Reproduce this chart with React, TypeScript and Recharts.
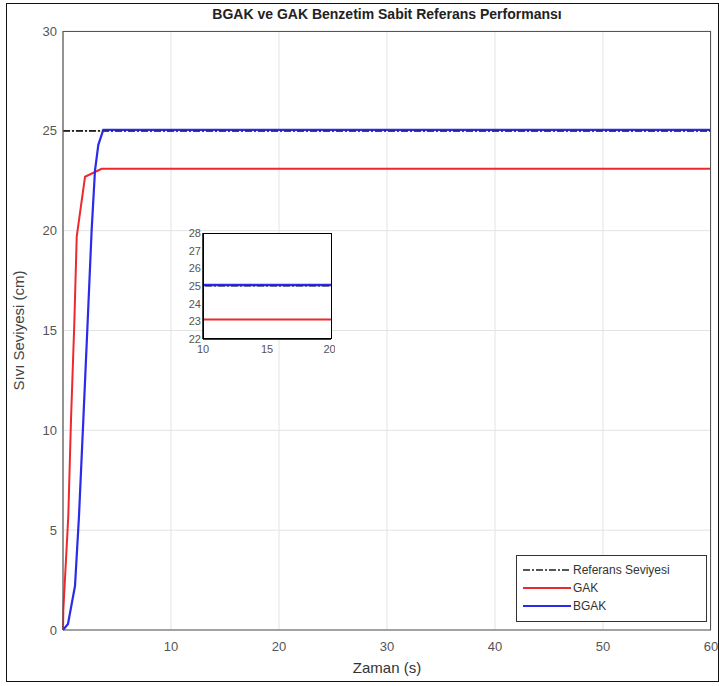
import React from 'react';
import {
    LineChart,
    Line,
    XAxis,
    YAxis,
    CartesianGrid,
} from 'recharts';

// time (s) / level (cm)
const refTime = [0, 60];
const refLevel = [25, 25];

const gakTime = [0, 0.03, 0.49, 0.74, 1.05, 1.27, 2.04, 3.58, 60];
const gakLevel = [0, 1.0, 5.7, 10.5, 15.4, 19.7, 22.7, 23.1, 23.1];

const bgakTime = [0, 0.46, 1.11, 1.48, 1.88, 2.28, 2.65, 2.96, 3.27, 3.73, 60];
const bgakLevel = [0, 0.3, 2.2, 5.7, 10.5, 15.4, 20.0, 23.0, 24.3, 25.05, 25.05];

const xTicks = [10, 20, 30, 40, 50, 60];
const yTicks = [0, 5, 10, 15, 20, 25, 30];
const insetXTicks = [10, 15, 20];
const insetYTicks = [22, 23, 24, 25, 26, 27, 28];

const FONT = '"Liberation Sans", Arial, sans-serif';
const RED = '#ec2a2e';
const BLUE = '#2b2bea';
const REF = '#1e1e1e';
const REF_DASH = '7 2 2 2';

const toPoints = (ts: number[], vs: number[]) => ts.map((t, i) => ({ t, v: vs[i] }));

const refData = toPoints(refTime, refLevel);
const gakData = toPoints(gakTime, gakLevel);
const bgakData = toPoints(bgakTime, bgakLevel);

const SERIES = [
    { key: 'ref', label: 'Referans Seviyesi', color: REF, dash: REF_DASH, width: 1.6 },
    { key: 'gak', label: 'GAK', color: RED, dash: undefined, width: 2 },
    { key: 'bgak', label: 'BGAK', color: BLUE, dash: undefined, width: 2 },
];

function LegendBox() {
    return (
        <div
            style={{
                border: '1px solid #333',
                background: '#fff',
                width: 191,
                height: 67,
                boxSizing: 'border-box',
                padding: '5px 0 0 6px',
                fontFamily: FONT,
                fontSize: 12,
                color: '#333',
            }}
        >
            {SERIES.map((s) => (
                <div key={s.key} style={{ display: 'flex', alignItems: 'center', height: 18 }}>
                    <svg width={48} height={6} style={{ marginRight: 2 }}>
                        <line x1={0} y1={3} x2={48} y2={3} stroke={s.color} strokeWidth={s.width} strokeDasharray={s.dash} />
                    </svg>
                    <span>{s.label}</span>
                </div>
            ))}
        </div>
    );
}

function Inset() {
    return (
        <LineChart width={160} height={132} margin={{ top: 7, right: 4, left: 0, bottom: 0 }}>
            <CartesianGrid fill="#fff" horizontal={false} vertical={false} />
            <XAxis
                dataKey="t"
                type="number"
                domain={[10, 20]}
                ticks={insetXTicks}
                allowDataOverflow
                height={19}
                tickLine={false}
                axisLine={{ stroke: '#000', strokeWidth: 1.5 }}
                tick={{ fontSize: 11, fill: '#555', fontFamily: FONT }}
                tickSize={4}
                tickMargin={2}
            />
            <YAxis
                dataKey="v"
                type="number"
                domain={[22, 28]}
                ticks={insetYTicks}
                allowDataOverflow
                width={28}
                tickLine={false}
                axisLine={{ stroke: '#000', strokeWidth: 1.5 }}
                tick={{ fontSize: 11, fill: '#555', fontFamily: FONT }}
                tickSize={1}
                tickMargin={1}
            />
            <Line data={gakData} dataKey="v" stroke={RED} strokeWidth={2} dot={false} isAnimationActive={false} />
            <Line data={bgakData} dataKey="v" stroke={BLUE} strokeWidth={2.5} dot={false} isAnimationActive={false} />
            <Line data={refData} dataKey="v" stroke={REF} strokeWidth={1.2} strokeDasharray={REF_DASH} dot={false} isAnimationActive={false} />
        </LineChart>
    );
}

export default function App() {
    return (
        <div style={{ position: 'absolute', left: 0, top: 0, width: 719, height: 686, background: '#fff', overflow: 'hidden' }}>
            {/* figure frame */}
            <div style={{ position: 'absolute', left: 6, top: 3, width: 713, height: 679, border: '1.5px solid #111', boxSizing: 'border-box' }} />
            <div
                style={{
                    position: 'absolute',
                    left: 0,
                    top: 6,
                    width: 774,
                    textAlign: 'center',
                    fontFamily: FONT,
                    fontWeight: 'bold',
                    fontSize: 14,
                    color: '#222',
                }}
            >
                BGAK ve GAK Benzetim Sabit Referans Performansı
            </div>
            <div style={{ position: 'absolute', left: 0, top: 0 }}>
                <LineChart width={719} height={686} margin={{ top: 31, right: 8, left: 33, bottom: 26 }}>
                    <CartesianGrid stroke="#e3e3e3" strokeWidth={1} />
                    <XAxis
                        dataKey="t"
                        type="number"
                        domain={[0, 60]}
                        ticks={xTicks}
                        height={30}
                        tickLine={false}
                        axisLine={{ stroke: '#555', strokeWidth: 1.2 }}
                        tick={{ fontSize: 13, fill: '#555', fontFamily: FONT }}
                        tickSize={4}
                        tickMargin={8}
                        label={{ value: 'Zaman (s)', position: 'insideBottom', offset: -13, fontSize: 15, fill: '#333', fontFamily: FONT }}
                    />
                    <YAxis
                        dataKey="v"
                        type="number"
                        domain={[0, 30]}
                        ticks={yTicks}
                        width={30}
                        tickLine={false}
                        axisLine={{ stroke: '#555', strokeWidth: 1.2 }}
                        tick={{ fontSize: 13, fill: '#555', fontFamily: FONT }}
                        tickSize={4}
                        tickMargin={2}
                        label={{ value: 'Sıvı Seviyesi (cm)', angle: -90, position: 'insideLeft', offset: -14, dy: 60, fontSize: 15, fill: '#444', fontFamily: FONT }}
                    />
                    <Line data={refData} dataKey="v" stroke={REF} strokeWidth={1.6} strokeDasharray={REF_DASH} dot={false} isAnimationActive={false} />
                    <Line data={gakData} dataKey="v" stroke={RED} strokeWidth={2} dot={false} isAnimationActive={false} />
                    <Line data={bgakData} dataKey="v" stroke={BLUE} strokeWidth={2.2} dot={false} isAnimationActive={false} />
                    <Line data={refData} dataKey="v" stroke={REF} strokeWidth={1} strokeOpacity={0.6} strokeDasharray={REF_DASH} dot={false} isAnimationActive={false} />
                </LineChart>
            </div>
            {/* plot box (top/right edges) */}
            <div style={{ position: 'absolute', left: 63, top: 31, width: 648, height: 599, borderTop: '1.2px solid #555', borderRight: '1.2px solid #555', boxSizing: 'border-box', pointerEvents: 'none' }} />
            <div style={{ position: 'absolute', left: 516, top: 555 }}>
                <LegendBox />
            </div>
            <div style={{ position: 'absolute', left: 175, top: 226 }}>
                <Inset />
            </div>
            <div style={{ position: 'absolute', left: 203, top: 233, width: 129, height: 106, border: '1.5px solid #000', boxSizing: 'border-box', pointerEvents: 'none' }} />
        </div>
    );
}
